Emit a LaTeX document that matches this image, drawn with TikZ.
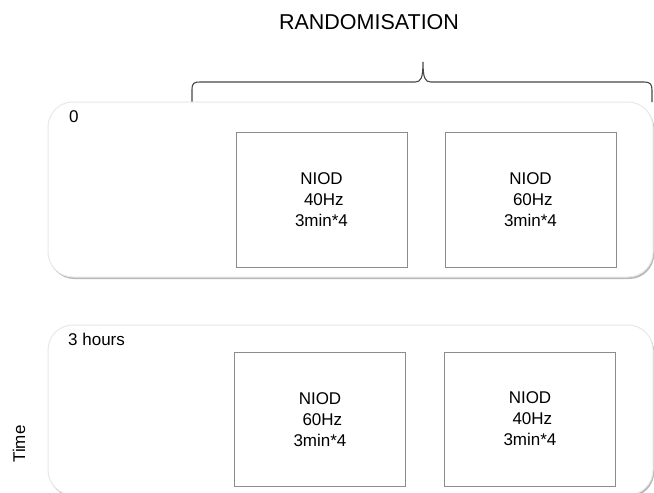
\documentclass[tikz,border=0pt]{standalone}
\usepackage{fontspec}
\setmainfont{Liberation Sans}
\begin{document}
\begin{tikzpicture}[x=1pt,y=-1pt,
  panel/.style={rounded corners=25pt, fill=white, draw=black!9, line width=1pt},
  panelshadow/.style={rounded corners=25pt, fill=black!28},
  armbox/.style={draw=black!45, line width=0.9pt, fill=white, minimum width=171pt, minimum height=135pt, inner sep=0pt, align=center, font=\fontsize{17}{21}\selectfont},
  lbl/.style={inner sep=0pt, font=\fontsize{17}{21}\selectfont},
  bracestyle/.style={draw=black!72, line width=1.1pt}
]
\clip (0,0) rectangle (654,493);
\fill[white] (0,0) rectangle (654,493);
% title
\node[inner sep=0pt, anchor=base, font=\fontsize{21.5}{26}\selectfont] (title) at (369,29) {RANDOMISATION};
% brace
\coordinate (bl) at (192,102);
\coordinate (br) at (652,102);
\coordinate (bt) at (423,62);
\draw[bracestyle] (bl) -- (192,90) .. controls (192,83) and (194,82) .. (200,82) -- (415,82) .. controls (421,82) and (423,78) .. (bt) .. controls (423,78) and (425,82) .. (431,82) -- (644,82) .. controls (650,82) and (652,84) .. (652,90) -- (br);
% panels
\fill[panelshadow] (49.2,103.8) rectangle (654.2,279);
\path[panel] (48,102) rectangle (653,277);
\fill[panelshadow] (49.2,326.8) rectangle (654.2,497);
\path[panel] (48,325) rectangle (653,495);
% labels
\node[lbl, anchor=base west] (t0) at (69,122) {0};
\node[lbl, anchor=base west] (t3) at (68,345) {3 hours};
\node[lbl, rotate=90] (time) at (19,444) {Time};
% boxes
\node[armbox] (a1) at (321.5,199.5) {NIOD\\\mbox{}\ 40Hz\\3min*4};
\node[armbox] (a2) at (530.5,199.5) {NIOD\\\mbox{}\ 60Hz\\3min*4};
\node[armbox, minimum height=134pt] (b1) at (320,419.5) {NIOD\\\mbox{}\ 60Hz\\3min*4};
\node[armbox, minimum height=134pt] (b2) at (530,419) {NIOD\\\mbox{}\ 40Hz\\3min*4};
\end{tikzpicture}
\end{document}
